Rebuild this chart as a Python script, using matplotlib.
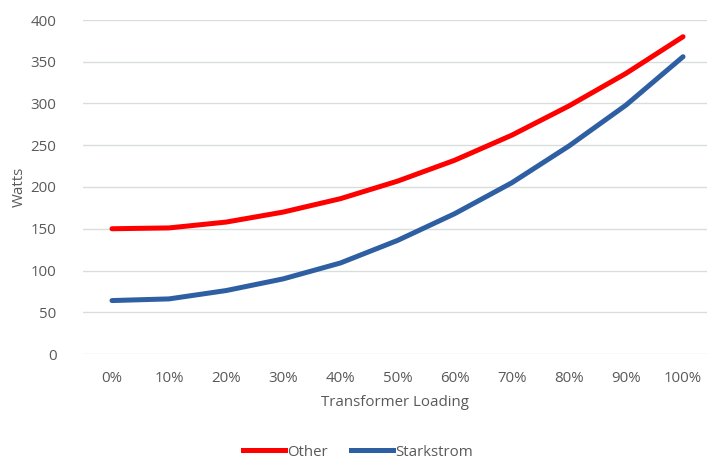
import matplotlib.pyplot as plt
from matplotlib.lines import Line2D

loading = ['0%', '10%', '20%', '30%', '40%', '50%', '60%', '70%', '80%', '90%', '100%']
other = [150, 151, 158, 170, 186, 207, 232, 262, 297, 336, 380]
starkstrom = [64, 66, 76, 90, 109, 136, 168, 205, 249, 298, 356]
y_ticks = [0, 50, 100, 150, 200, 250, 300, 350, 400]

plt.rcParams['font.family'] = ['Open Sans', 'DejaVu Sans']
grey = '#595959'

fig = plt.figure(figsize=(7.07, 4.61), dpi=100)
ax = fig.add_axes([83 / 707, 107 / 461, 624 / 707, 334 / 461])

x = list(range(len(loading)))
ax.plot(x, other, color='#ff0000', lw=3.6, solid_capstyle='round', label='Other')
ax.plot(x, starkstrom, color='#2e5fa3', lw=3.6, solid_capstyle='round', label='Starkstrom')

ax.set_xlim(-0.508, 10.42)
ax.set_ylim(0, 400)
ax.set_yticks(y_ticks)
ax.set_xticks(x)
ax.set_xticklabels(loading)
ax.grid(axis='y', color='#d9dedc', lw=1)
ax.set_axisbelow(True)
for s in ax.spines.values():
    s.set_visible(False)
ax.tick_params(length=0, colors=grey, labelsize=10.8)
ax.tick_params(axis='y', pad=19)
ax.tick_params(axis='x', pad=12)

ax.set_ylabel('Watts', color=grey, fontsize=10.8)
ax.yaxis.set_label_coords(-0.09, 0.5)
ax.set_xlabel('Transformer Loading', color=grey, fontsize=10.8, labelpad=7)

handles = [Line2D([], [], color='#ff0000', lw=3.6),
           Line2D([], [], color='#2e5fa3', lw=3.6)]
fig.legend(handles, ['Other', 'Starkstrom'], loc='center', bbox_to_anchor=(358 / 707, 1 - 452 / 461),
           ncol=2, frameon=False, fontsize=10.8, labelcolor=grey, handlelength=2.8,
           handletextpad=0.15, columnspacing=1.6)

fig.savefig('out.png', dpi=100)
